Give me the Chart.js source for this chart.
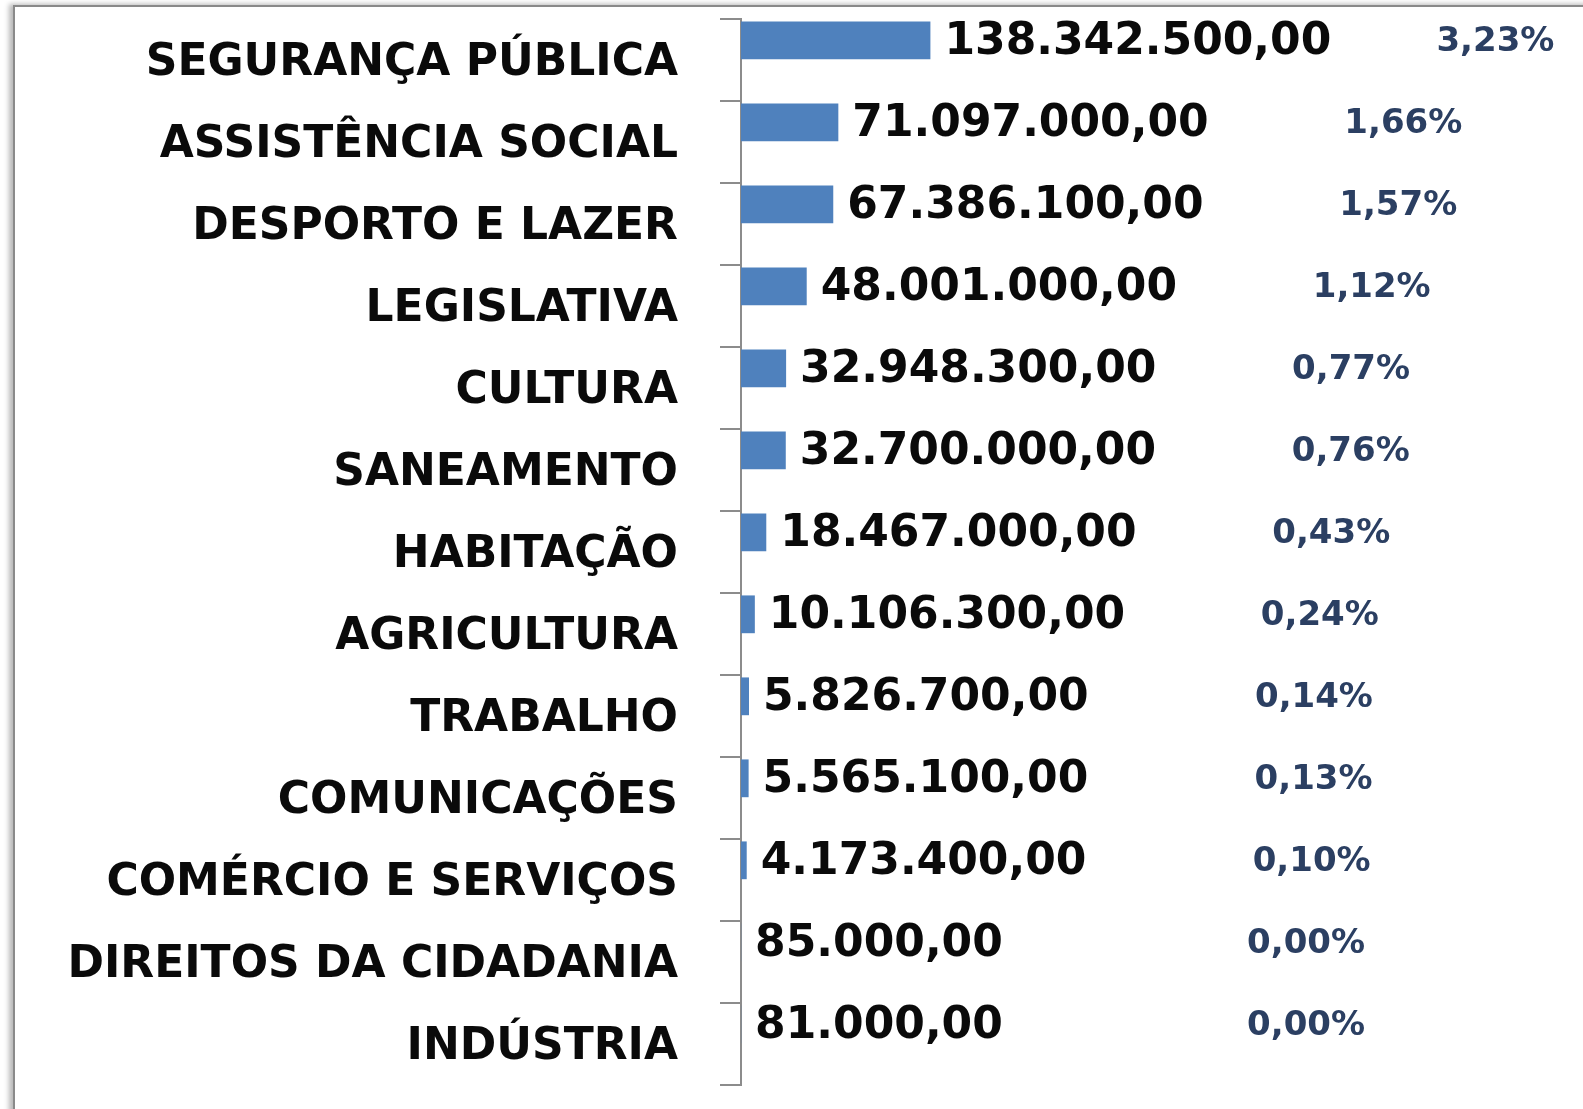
<!DOCTYPE html>
<html>
<head>
<meta charset="utf-8">
<script src="https://cdn.jsdelivr.net/npm/chart.js@4/dist/chart.umd.min.js"></script>
<style>
  html, body { margin: 0; padding: 0; background: #fff; overflow: hidden; }
  #wrap { position: relative; width: 1583px; height: 1109px; overflow: hidden; }
  #frame { position: absolute; left: 13px; top: 5px; width: 1700px; height: 1300px;
           border: 2px solid #8a8a8a; box-shadow: -4px -1px 5px rgba(0,0,0,0.28); background: #fff; }
  canvas { position: absolute; left: 0; top: 0; }
</style>
</head>
<body>
<div id="wrap">
  <div id="frame"></div>
  <canvas id="c" width="1583" height="1109"></canvas>
</div>
<script>
const categories = [
  "SEGURANÇA PÚBLICA", "ASSISTÊNCIA SOCIAL", "DESPORTO E LAZER", "LEGISLATIVA",
  "CULTURA", "SANEAMENTO", "HABITAÇÃO", "AGRICULTURA", "TRABALHO",
  "COMUNICAÇÕES", "COMÉRCIO E SERVIÇOS", "DIREITOS DA CIDADANIA", "INDÚSTRIA"
];
const values = [138342500, 71097000, 67386100, 48001000, 32948300, 32700000,
                18467000, 10106300, 5826700, 5565100, 4173400, 85000, 81000];
const percents = [3.23, 1.66, 1.57, 1.12, 0.77, 0.76, 0.43, 0.24, 0.14, 0.13, 0.10, 0.00, 0.00];

function fmtBR(v) {
  const parts = v.toFixed(2).split('.');
  const int = parts[0].replace(/\B(?=(\d{3})+(?!\d))/g, '.');
  return int + ',' + parts[1];
}
function fmtPct(p) { return p.toFixed(2).replace('.', ',') + '%'; }

const FONT = '"DejaVu Sans", sans-serif';

const labelPlugin = {
  id: 'valueLabels',
  afterDatasetsDraw(chart) {
    const ctx = chart.ctx;
    const meta = chart.getDatasetMeta(0);
    ctx.save();
    ctx.textBaseline = 'middle';
    ctx.textAlign = 'left';
    meta.data.forEach((bar, i) => {
      const y = bar.y + 2;
      ctx.fillStyle = '#0a0a0a';
      ctx.font = 'bold 44px ' + FONT;
      ctx.fillText(fmtBR(values[i]), bar.x + 14, y);
      ctx.fillStyle = '#2b3f62';
      ctx.font = 'bold 34px ' + FONT;
      ctx.fillText(fmtPct(percents[i]), bar.x + 506, y);
    });
    ctx.restore();
  }
};

new Chart(document.getElementById('c'), {
  type: 'bar',
  data: {
    labels: categories,
    datasets: [
      { label: 'Valor', data: values, backgroundColor: '#4F81BD',
        categoryPercentage: 0.96, barPercentage: 0.96 },
      { label: '%', data: percents, backgroundColor: 'rgba(0,0,0,0)',
        categoryPercentage: 0.96, barPercentage: 0.96 }
    ]
  },
  options: {
    indexAxis: 'y',
    responsive: false,
    animation: false,
    events: [],
    layout: { padding: { top: 19, bottom: 24, left: 0, right: 0 } },
    plugins: { legend: { display: false }, tooltip: { enabled: false } },
    scales: {
      x: { display: false, min: 0, max: 615000000 },
      y: {
        offset: true,
        grid: { offset: true, drawOnChartArea: false, drawTicks: true, tickLength: 21,
                color: '#8c8c8c', lineWidth: 2 },
        border: { display: true, color: '#8c8c8c', width: 2 },
        ticks: { color: '#0a0a0a', padding: 42, labelOffset: 4,
                 font: { family: FONT, weight: 'bold', size: 44 } },
        afterFit(scale) { scale.width = 741; scale.paddingTop = 0; scale.paddingBottom = 0; }
      }
    }
  },
  plugins: [labelPlugin]
});
</script>
</body>
</html>
